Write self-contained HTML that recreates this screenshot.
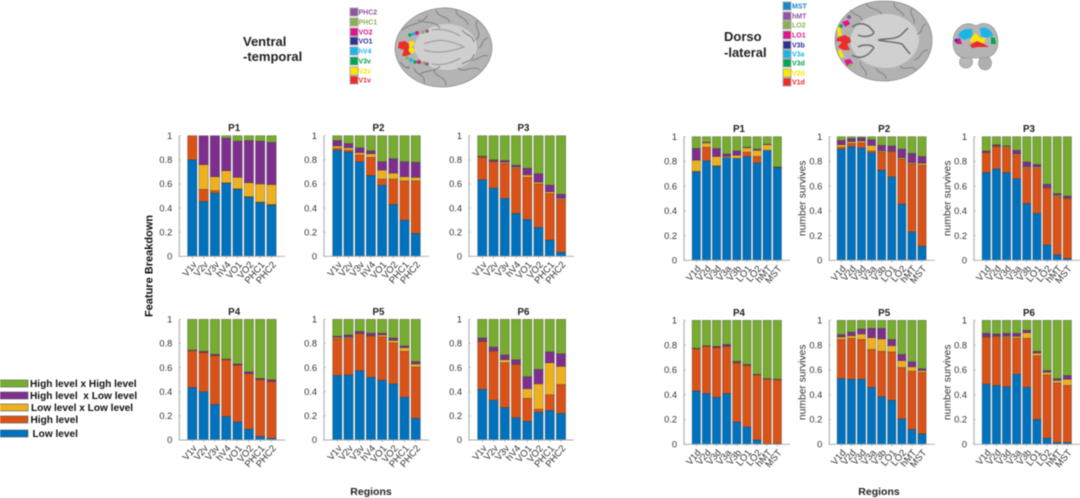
<!DOCTYPE html>
<html lang="en">
<head>
<meta charset="utf-8">
<title>Feature breakdown by visual region</title>
<style>
html,body{margin:0;padding:0;background:#fff;width:1080px;height:498px;overflow:hidden}
svg{display:block;filter:blur(.45px)}
text{font-family:"Liberation Sans",sans-serif}
</style>
</head>
<body>
<svg id="fig" xmlns="http://www.w3.org/2000/svg" width="1080" height="498" viewBox="0 0 1080 498">
  <rect width="1080" height="498" fill="#fff"/>

  <g font-size="13" font-weight="700" fill="#222">
    <text x="243" y="46">Ventral</text>
    <text x="243" y="61">-temporal</text>
  </g>
  <g font-size="13" font-weight="700" fill="#222">
    <text x="724" y="41">Dorso</text>
    <text x="724" y="57">-lateral</text>
  </g>

  <g font-size="7" font-weight="700">
    <rect x="350" y="8" width="8" height="8" fill="#8e55a0" stroke="#aaa"/><text x="358.5" y="14.5" fill="#8e55a0">PHC2</text>
    <rect x="350" y="18" width="8" height="8" fill="#8cb050" stroke="#aaa"/><text x="358.5" y="24.5" fill="#8cb050">PHC1</text>
    <rect x="350" y="28" width="8" height="8" fill="#e0148c" stroke="#aaa"/><text x="358.5" y="34.5" fill="#e0148c">VO2</text>
    <rect x="350" y="37" width="8" height="8" fill="#2e3192" stroke="#aaa"/><text x="358.5" y="43.5" fill="#2e3192">VO1</text>
    <rect x="350" y="47" width="8" height="8" fill="#1cb5ea" stroke="#aaa"/><text x="358.5" y="53.5" fill="#1cb5ea">hV4</text>
    <rect x="350" y="57" width="8" height="8" fill="#00a651" stroke="#aaa"/><text x="358.5" y="63.5" fill="#00a651">V3v</text>
    <rect x="350" y="67" width="8" height="8" fill="#ffe600" stroke="#aaa"/><text x="358.5" y="73.5" fill="#ffe600">V2v</text>
    <rect x="350" y="76" width="8" height="8" fill="#ee2a2a" stroke="#aaa"/><text x="358.5" y="82.5" fill="#ee2a2a">V1v</text>
  </g>
  <g font-size="7" font-weight="700">
    <rect x="783" y="2" width="8" height="8" fill="#1a86c8" stroke="#aaa"/><text x="792" y="8.5" fill="#1a86c8">MST</text>
    <rect x="783" y="12" width="8" height="8" fill="#8e55a0" stroke="#aaa"/><text x="792" y="18.5" fill="#8e55a0">hMT</text>
    <rect x="783" y="21" width="8" height="8" fill="#8cb050" stroke="#aaa"/><text x="792" y="27.5" fill="#8cb050">LO2</text>
    <rect x="783" y="31" width="8" height="8" fill="#e0148c" stroke="#aaa"/><text x="792" y="37.5" fill="#e0148c">LO1</text>
    <rect x="783" y="41" width="8" height="8" fill="#2e3192" stroke="#aaa"/><text x="792" y="47.5" fill="#2e3192">V3b</text>
    <rect x="783" y="50" width="8" height="8" fill="#1cb5ea" stroke="#aaa"/><text x="792" y="56.5" fill="#1cb5ea">V3a</text>
    <rect x="783" y="59" width="8" height="8" fill="#00a651" stroke="#aaa"/><text x="792" y="65.5" fill="#00a651">V3d</text>
    <rect x="783" y="69" width="8" height="8" fill="#ffe600" stroke="#aaa"/><text x="792" y="75.5" fill="#ffe600">V2d</text>
    <rect x="783" y="78" width="8" height="8" fill="#ee2a2a" stroke="#aaa"/><text x="792" y="84.5" fill="#ee2a2a">V1d</text>
  </g>

  <g>
    <path d="M395 48C396 28 415 10 442 8C468 7 491 25 492 47C492 70 468 87 442 87C415 87 395 68 395 48Z" fill="#b4b4b4" stroke="#8d8d8d" stroke-width=".8"/>
    <path d="M414 47C416 32 432 24 448 24C466 25 477 36 477 47C477 59 464 70 447 70C431 70 415 61 414 47Z" fill="#cfcfcf"/>
    <g fill="none" stroke="#858585" stroke-width="1.1">
      <path d="M402 30C412 22 420 26 428 15M436 10C438 18 446 15 450 22M456 10C456 18 466 16 468 25M478 20C472 28 484 32 476 40M488 38C480 40 484 46 478 48M488 56C480 54 480 60 472 60M480 70C470 64 466 74 458 68M446 85C446 76 436 78 434 70M424 83C426 74 416 76 414 68M406 68C412 64 410 74 400 62"/>
      <path d="M418 20C426 24 434 20 440 28M462 30C466 36 472 34 474 42M462 64C468 60 472 62 474 54M420 74C426 70 436 72 440 66"/>
    </g>
    <g fill="none" stroke="#9a9a9a" stroke-width="1.1">
      <path d="M424 44C438 38 450 40 464 47C450 52 436 54 424 50"/>
      <path d="M432 30C444 28 454 32 460 36M432 64C444 66 454 62 460 58"/>
    </g>
    <path d="M399 42L405 41L409 44L411 46L408 50L411 54L406 56L402 56L404 50L398 48Z" fill="#ee2a2a"/>
    <path d="M409 42L413 41L415 44L411 47L415 50L413 54L409 52Z" fill="#ffe600"/>
    <circle cx="410" cy="35" r="1.8" fill="#00a651"/>
    <circle cx="413.500" cy="34" r="1.8" fill="#1cb5ea"/>
    <circle cx="417" cy="33" r="2" fill="#e0148c"/>
    <circle cx="423" cy="32" r="1.8" fill="#8cb050"/>
    <circle cx="427" cy="31" r="1.8" fill="#8e55a0"/>
    <circle cx="407" cy="58" r="1.8" fill="#8cb050"/>
    <circle cx="411" cy="60" r="2" fill="#1cb5ea"/>
    <circle cx="415" cy="62" r="1.8" fill="#00a651"/>
    <circle cx="419" cy="62" r="2" fill="#e0148c"/>
    <circle cx="424" cy="63" r="1.8" fill="#8cb050"/>
    <circle cx="427" cy="64" r="1.8" fill="#8e55a0"/>
  </g>

  <g>
    <path d="M835 40C835 18 856 1 884 1C912 1 932 18 932 40C932 64 910 81 884 81C856 81 835 62 835 40Z" fill="#b2b2b2" stroke="#8d8d8d" stroke-width=".8"/>
    <path d="M850 40C852 26 866 14 886 14C906 14 919 28 919 40C919 54 904 68 886 68C866 68 850 54 850 40Z" fill="#d0d0d0"/>
    <g fill="none" stroke="#6d6d6d" stroke-width="1.5">
      <path d="M852 27C860 21 868 24 872 30C878 34 866 39 858 35"/>
      <path d="M852 55C860 60 868 56 872 50C878 46 866 43 858 47"/>
      <path d="M878 40C888 38 896 40 902 34L908 28M902 44L910 54M878 40C888 42 896 42 902 44"/>
    </g>
    <g fill="none" stroke="#868686" stroke-width="1.1">
      <path d="M866 4C870 10 878 8 882 14M894 3C894 10 902 10 904 16M912 8C908 14 916 18 914 24M926 24C920 26 924 32 917 34M928 50C920 50 922 58 914 60M916 70C910 64 904 72 900 66M886 79C886 72 878 74 876 68M866 76C868 70 860 68 860 62M850 10C854 16 860 14 862 20"/>
    </g>
    <path d="M837 38L845 35L850 38L851 42L847 44L850 50L843 50L838 47L842 42L836 41Z" fill="#ee2a2a"/>
    <path d="M837 28L840 27L842 35L838 36Z" fill="#ffe600"/>
    <path d="M838 50L841 50L844 57L840 58Z" fill="#ffe600"/>
    <path d="M842 22L848 20L850 24L845 27Z" fill="#e0148c"/>
    <path d="M844 60L850 59L853 63L847 66Z" fill="#e0148c"/>
    <circle cx="849" cy="17" r="2" fill="#8e55a0"/>
    <circle cx="841" cy="26" r="1.800" fill="#00a651"/>
    <circle cx="850" cy="65" r="1.800" fill="#8cb050"/>
  </g>

  <g>
    <ellipse cx="966" cy="62" rx="6.500" ry="6" fill="#b8b8b8" stroke="#8a8a8a" stroke-width=".6"/>
    <ellipse cx="985" cy="63" rx="6.500" ry="7" fill="#b0b0b0" stroke="#8a8a8a" stroke-width=".6"/>
    <path d="M953 42C953 30 962 22 972 24C975 26 977 26 980 24C990 21 998 30 998 42C998 54 990 58 982 58C976 58 972 58 966 58C958 58 953 52 953 42Z" fill="#b4b4b4" stroke="#8a8a8a" stroke-width=".6"/>
    <path d="M958 36C960 30 966 28 972 29L973 37L964 40Z" fill="#1cb5ea"/>
    <path d="M980 28C986 26 992 30 993 36L986 38L981 36Z" fill="#1cb5ea"/>
    <path d="M972 36L976 33L980 38L986 38L984 43L976 42L970 42Z" fill="#ffe600"/>
    <path d="M970 45L977 41L984 44L989 47L978 47L972 48Z" fill="#ee2a2a"/>
    <path d="M956 39L960 38L962 44L957 44Z" fill="#e0148c"/>
    <path d="M954 40L957 38L957 44Z" fill="#2e3192"/>
    <path d="M991 37L995 38L996 44L991 44Z" fill="#00a651"/>
  </g>

  <g font-size="10.100" font-weight="700" fill="#111">
    <g><rect x="-2" y="380" width="30" height="7" fill="#77ac30" stroke="#555" stroke-width=".6"/><text x="30" y="387">High level x High level</text></g>
    <g><rect x="-2" y="392" width="30" height="7" fill="#7e2f8e" stroke="#555" stroke-width=".6"/><text x="30" y="399" xml:space="preserve">High level  x Low level</text></g>
    <g><rect x="-2" y="404" width="30" height="7" fill="#edb120" stroke="#555" stroke-width=".6"/><text x="31" y="411">Low level x Low level</text></g>
    <g><rect x="-2" y="416" width="30" height="7" fill="#d95319" stroke="#555" stroke-width=".6"/><text x="30.500" y="423">High level</text></g>
    <g><rect x="-2" y="430" width="30" height="7" fill="#0072bd" stroke="#555" stroke-width=".6"/><text x="32.500" y="437">Low level</text></g>
  </g>

  <text transform="translate(152.500,266) rotate(-90)" text-anchor="middle" font-size="11" font-weight="700" fill="#111">Feature Breakdown</text>
  <text x="371" y="495" text-anchor="middle" font-size="10.500" font-weight="700" fill="#222">Regions</text>
  <text x="879" y="495" text-anchor="middle" font-size="10.500" font-weight="700" fill="#222">Regions</text>

  <g id="panels"></g>
</svg>

<script>
// Categories and tick labels
const ventralRegions = ['V1v','V2v','V3v','hV4','VO1','VO2','PHC1','PHC2'];
const dorsalRegions = ['V1d','V2d','V3d','V3a','V3b','LO1','LO2','hMT','MST'];
const yTickValues = [0,0.2,0.4,0.6,0.8,1];
const yTickLabels = ['0','0.2','0.4','0.6','0.8','1'];

// Ventral-temporal series (share of features per region)
const vP1Low = [.80,.455,.525,.605,.555,.49,.445,.425];
const vP1High = [.20,.10,.02,.005,.005,.005,.005,.005];
const vP1LowLow = [0,.205,.115,.10,.095,.115,.15,.165];
const vP1HighLow = [0,.24,.34,.27,.30,.35,.355,.35];
const vP1HighHigh = [0,0,0,.02,.045,.04,.045,.055];

const vP2Low = [.88,.865,.785,.67,.59,.43,.30,.19];
const vP2High = [.015,.015,.055,.15,.05,.21,.325,.435];
const vP2LowLow = [.02,.02,.02,.03,.075,.05,.035,.03];
const vP2HighLow = [.045,.035,.04,.025,.07,.12,.125,.125];
const vP2HighHigh = [.04,.065,.10,.125,.215,.19,.215,.22];

const vP3Low = [.635,.565,.48,.355,.305,.24,.135,.035];
const vP3High = [.185,.22,.29,.375,.35,.36,.385,.435];
const vP3LowLow = [.005,.005,.01,.01,.02,.015,.015,.01];
const vP3HighLow = [.005,.01,.015,.015,.055,.07,.055,.035];
const vP3HighHigh = [.17,.20,.205,.245,.27,.315,.41,.485];

const vP4Low = [.435,.40,.295,.195,.15,.09,.03,.015];
const vP4High = [.305,.325,.405,.47,.47,.46,.47,.47];
const vP4LowLow = [0,0,0,0,0,0,0,0];
const vP4HighLow = [.005,.01,.01,.005,.01,.015,.01,.015];
const vP4HighHigh = [.255,.265,.29,.33,.37,.435,.49,.50];

const vP5Low = [.535,.54,.575,.52,.495,.465,.355,.18];
const vP5High = [.305,.30,.305,.34,.36,.34,.38,.425];
const vP5LowLow = [.01,.01,.005,.005,.015,.02,.03,.025];
const vP5HighLow = [.01,.02,.015,.02,.015,.02,.015,.02];
const vP5HighHigh = [.14,.13,.10,.115,.115,.155,.22,.35];

const vP6Low = [.42,.33,.27,.185,.155,.23,.245,.22];
const vP6High = [.395,.405,.37,.44,.19,.025,.13,.24];
const vP6LowLow = [.005,.005,.025,.005,.08,.21,.265,.15];
const vP6HighLow = [.025,.03,.04,.035,.10,.12,.09,.105];
const vP6HighHigh = [.155,.23,.295,.335,.475,.415,.27,.285];

// Dorso-lateral series
const dP1Low = [.715,.805,.76,.83,.825,.84,.79,.89,.75];
const dP1High = [.005,.11,.005,0,0,.035,.05,0,0];
const dP1LowLow = [.09,.035,.075,.01,.025,.035,.05,.045,0];
const dP1HighLow = [.095,.005,.065,.02,.035,.005,.01,.005,.005];
const dP1HighHigh = [.095,.045,.095,.14,.115,.085,.10,.06,.245];

const dP2Low = [.90,.92,.91,.87,.73,.675,.455,.23,.115];
const dP2High = [.015,.025,.04,.015,.145,.205,.365,.55,.655];
const dP2LowLow = [.02,.015,.015,.045,.01,.005,.01,.01,.015];
const dP2HighLow = [.035,.025,.025,.045,.045,.04,.07,.075,.055];
const dP2HighHigh = [.03,.015,.01,.025,.07,.075,.10,.135,.16];

const dP3Low = [.71,.74,.71,.66,.46,.38,.125,.045,.015];
const dP3High = [.16,.18,.20,.19,.285,.365,.46,.47,.485];
const dP3LowLow = [.005,.005,.01,.01,.01,.01,.005,.01,.005];
const dP3HighLow = [.01,.01,.005,.03,.04,.02,.025,.015,.015];
const dP3HighHigh = [.115,.065,.075,.11,.205,.225,.385,.46,.48];

const dP4Low = [.43,.41,.38,.41,.18,.14,.035,.005,.005];
const dP4High = [.34,.38,.40,.38,.475,.495,.525,.52,.515];
const dP4LowLow = [0,0,0,0,.005,.005,0,0,0];
const dP4HighLow = [.005,.005,.01,.015,.01,.005,.005,.005,.005];
const dP4HighHigh = [.225,.205,.21,.195,.33,.355,.435,.47,.475];

const dP5Low = [.53,.525,.525,.46,.385,.355,.205,.12,.085];
const dP5High = [.315,.33,.32,.305,.365,.39,.415,.47,.495];
const dP5LowLow = [.02,.02,.045,.095,.10,.05,.055,.035,.015];
const dP5HighLow = [.02,.03,.04,.075,.085,.05,.05,.04,.015];
const dP5HighHigh = [.115,.095,.07,.065,.065,.155,.275,.335,.39];

const dP6Low = [.485,.475,.465,.565,.46,.20,.05,.015,.015];
const dP6High = [.38,.395,.395,.29,.395,.515,.51,.48,.46];
const dP6LowLow = [.005,.005,.01,.015,.045,.02,.02,.02,.05];
const dP6HighLow = [.025,.015,.025,.025,.02,.015,.015,.015,.03];
const dP6HighHigh = [.105,.11,.105,.105,.08,.25,.405,.47,.445];

const seriesKeys = ['low','high','low-x-low','high-x-low','high-x-high'];
const seriesColors = ['#0072bd','#d95319','#edb120','#7e2f8e','#77ac30'];

const NS = 'http://www.w3.org/2000/svg';
const root = document.getElementById('panels');

function add(parent, tag, attrs, text) {
  const el = document.createElementNS(NS, tag);
  for (const k in attrs) el.setAttribute(k, attrs[k]);
  if (text !== undefined) el.textContent = text;
  parent.appendChild(el);
  return el;
}

function drawPanel(p) {
  const g = add(root, 'g', {});
  
  

  const n = p.categories.length;
  const xScale = i => p.firstBar + i * (p.lastBar - p.firstBar) / (n - 1);
  const yScale = v => p.y0 + (p.y1 - p.y0) * v;
  const step = (p.lastBar - p.firstBar) / (n - 1);
  const barW = step * 0.83;

  const title = add(g, 'text', {x: (p.axisL + p.axisR) / 2 + 2, y: p.y1 - 4.5, 'text-anchor': 'middle', 'font-size': 9.8, 'font-weight': 700, fill: '#222'}, p.title);
  
  

  const yAxis = add(g, 'line', {x1: p.axisL, x2: p.axisL, y1: p.y1, y2: p.y0, stroke: '#bdbdbd', 'stroke-width': 1.4});
  
  

  yTickValues.forEach((v, i) => {
    const tick = add(g, 'line', {x1: p.axisL, x2: p.axisL + 1.5, y1: yScale(v), y2: yScale(v), stroke: '#999', 'stroke-width': .7});
    
    
    const lab = add(g, 'text', {x: p.axisL - 7, y: yScale(v) + 3.2, 'text-anchor': 'end', 'font-size': 9.3, fill: '#333'}, yTickLabels[i]);
    
    
  });

  p.categories.forEach((c, i) => {
    let base = 0;
    p.series.forEach((vals, s) => {
      const v = vals[i];
      if (v > 0) {
        const top = yScale(base + v);
        const bot = yScale(base);
        const seg = add(g, 'rect', {x: xScale(i) - barW / 2, y: top, width: barW, height: bot - top, fill: seriesColors[s], stroke: '#2b2b2b', 'stroke-opacity': .55, 'stroke-width': .55});
        
        
      }
      base += v;
    });
    const tick = add(g, 'line', {x1: xScale(i), x2: xScale(i), y1: p.y0, y2: p.y0 + 2, stroke: '#999', 'stroke-width': .7});
    
    
    const ax = xScale(i) + 5;
    const ay = p.y0 + 8.5;
    const lab = add(g, 'text', {x: ax, y: ay, 'text-anchor': 'end', 'font-size': 9.5, fill: '#333', transform: 'rotate(-50 ' + ax + ' ' + ay + ')'}, c);
    
    
  });

  const xAxis = add(g, 'line', {x1: p.axisL - 0.7, x2: p.axisR, y1: p.y0, y2: p.y0, stroke: '#a8a8a8', 'stroke-width': .9});
  
  

  if (p.yLabelX) {
    const yl = add(g, 'text', {transform: 'translate(' + p.yLabelX + ',' + (p.y0 - 62) + ') rotate(-90)', 'text-anchor': 'middle', 'font-size': 10.3, fill: '#333'}, 'number survives');
    
    
  }
}

const ventralColumns = [
  {axisL: 179.3, axisR: 285, firstBar: 192.3, lastBar: 271.5},
  {axisL: 324, axisR: 429, firstBar: 337.3, lastBar: 415.7},
  {axisL: 469, axisR: 574, firstBar: 482.3, lastBar: 561}
];
const dorsalColumns = [
  {axisL: 684, axisR: 790, firstBar: 696.3, lastBar: 777.3},
  {axisL: 829.3, axisR: 935, firstBar: 841.3, lastBar: 922, yLabelX: 805.500},
  {axisL: 974, axisR: 1080, firstBar: 986.3, lastBar: 1067.3, yLabelX: 950.500}
];
const ventralRows = [{y1: 135.7, y0: 256.3}, {y1: 319.3, y0: 440}];
const dorsalRows = [{y1: 136.7, y0: 260.3}, {y1: 320.3, y0: 444.3}];

const ventralData = [
  [vP1Low,vP1High,vP1LowLow,vP1HighLow,vP1HighHigh],
  [vP2Low,vP2High,vP2LowLow,vP2HighLow,vP2HighHigh],
  [vP3Low,vP3High,vP3LowLow,vP3HighLow,vP3HighHigh],
  [vP4Low,vP4High,vP4LowLow,vP4HighLow,vP4HighHigh],
  [vP5Low,vP5High,vP5LowLow,vP5HighLow,vP5HighHigh],
  [vP6Low,vP6High,vP6LowLow,vP6HighLow,vP6HighHigh]
];
const dorsalData = [
  [dP1Low,dP1High,dP1LowLow,dP1HighLow,dP1HighHigh],
  [dP2Low,dP2High,dP2LowLow,dP2HighLow,dP2HighHigh],
  [dP3Low,dP3High,dP3LowLow,dP3HighLow,dP3HighHigh],
  [dP4Low,dP4High,dP4LowLow,dP4HighLow,dP4HighHigh],
  [dP5Low,dP5High,dP5LowLow,dP5HighLow,dP5HighHigh],
  [dP6Low,dP6High,dP6LowLow,dP6HighLow,dP6HighHigh]
];

ventralData.forEach((series, i) => {
  const col = ventralColumns[i % 3];
  const row = ventralRows[Math.floor(i / 3)];
  drawPanel(Object.assign({group: 'ventral', title: 'P' + (i + 1), categories: ventralRegions, series: series}, col, row));
});
dorsalData.forEach((series, i) => {
  const col = dorsalColumns[i % 3];
  const row = dorsalRows[Math.floor(i / 3)];
  drawPanel(Object.assign({group: 'dorsal', title: 'P' + (i + 1), categories: dorsalRegions, series: series}, col, row));
});
</script>
</body>
</html>
